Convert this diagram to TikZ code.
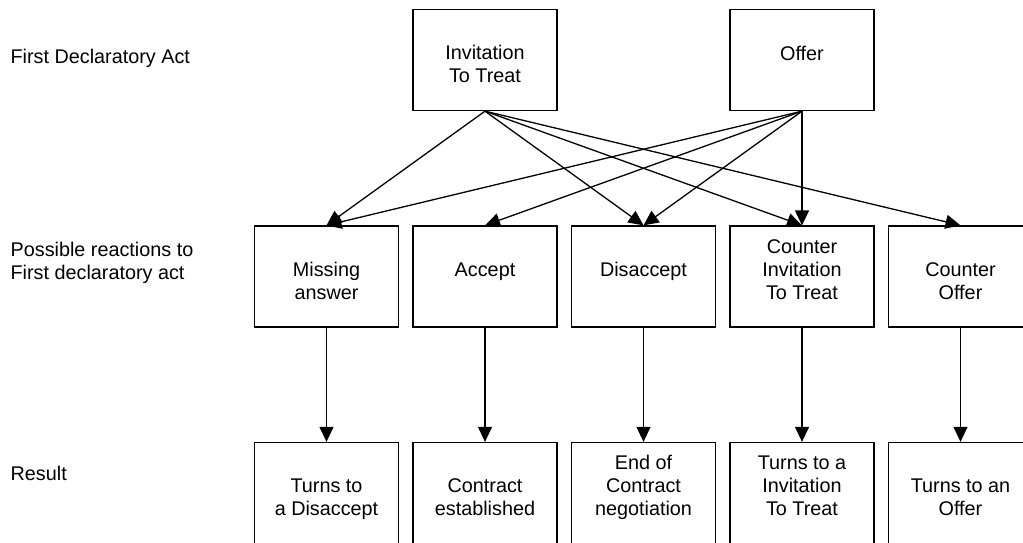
\documentclass[tikz,border=0pt]{standalone}
\usepackage{fontspec}
\setmainfont{Liberation Sans}
\usetikzlibrary{arrows.meta, positioning}

\begin{document}
\begin{tikzpicture}[->,
    >={Triangle[length=15pt, width=14pt]},
    x=1pt, y=-1pt,
    node distance=216.5pt and 158.5pt,
    on grid,
    line width=1.3pt,
    font=\fontsize{19.8}{22.8}\selectfont,
    act/.style={rectangle, draw=black, inner sep=0pt, minimum width=144pt, minimum height=101pt, align=center, text height=45pt, text depth=0pt},
    oneline/.style={text height=0pt},
    rowlabel/.style={anchor=base west, align=left, inner sep=0pt}
    ]
    \useasboundingbox (0,0) rectangle (1023,542);
    % Nodes
    \node[act, oneline] (ACC) at (485,276.5) {Accept};
    \node[act] (MIS) [left=of ACC] {Missing\\answer};
    \node[act, oneline] (DIS) [right=of ACC] {Disaccept};
    \node[act] (CIT) [right=of DIS] {Counter\\Invitation\\To Treat};
    \node[act] (COF) [right=of CIT] {Counter\\Offer};
    \node[act] (ITT) [above=of ACC] {Invitation\\To Treat};
    \node[act, oneline] (OFF) [above=of CIT] {Offer};
    \node[act] (R1) [below=of MIS] {Turns to\\a Disaccept};
    \node[act] (R2) [below=of ACC] {Contract\\established};
    \node[act] (R3) [below=of DIS] {End of\\Contract\\negotiation};
    \node[act] (R4) [below=of CIT] {Turns to a\\Invitation\\To Treat};
    \node[act] (R5) [below=of COF] {Turns to an\\Offer};
    % Row labels
    \node[rowlabel] (L1) at (10,63) {First Declaratory Act};
    \node[rowlabel] (L2) at (10,279) {Possible reactions to\\First declaratory act};
    \node[rowlabel] (L3) at (10,480) {Result};
    % Edges
    \path (ITT.south) edge (MIS.north);
    \path (ITT.south) edge (DIS.north);
    \path (ITT.south) edge (CIT.north);
    \path (ITT.south) edge (COF.north);
    \path (OFF.south) edge (MIS.north);
    \path (OFF.south) edge (ACC.north);
    \path (OFF.south) edge (DIS.north);
    \path (OFF.south) edge (CIT.north);
    \path (MIS) edge (R1);
    \path (ACC) edge (R2);
    \path (DIS) edge (R3);
    \path (CIT) edge (R4);
    \path (COF) edge (R5);
\end{tikzpicture}
\end{document}
